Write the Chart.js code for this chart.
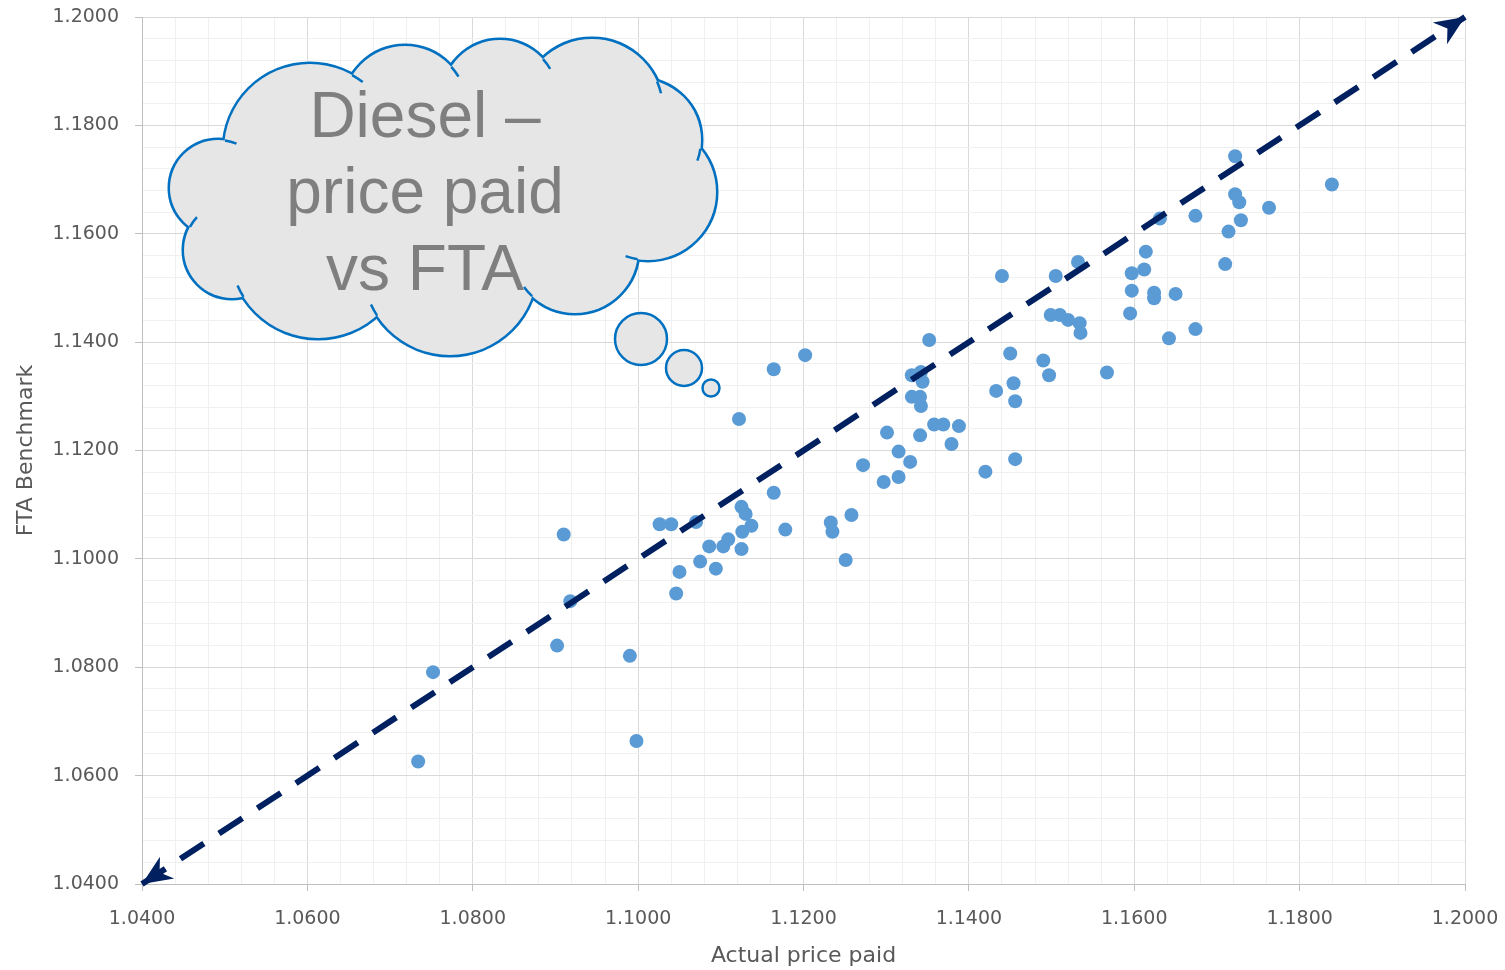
<!DOCTYPE html>
<html>
<head>
<meta charset="utf-8">
<script src="https://cdn.jsdelivr.net/npm/chart.js@4/dist/chart.umd.min.js"></script>
<style>
  body { margin: 0; background: #fff; }
  #wrap { width: 1505px; height: 970px; }
</style>
</head>
<body>
<div id="wrap"><canvas id="chart"></canvas></div>
<script>
// values
const actualPaid = [
  1.0734, 1.0752, 1.0910, 1.0918, 1.0902, 1.0990, 1.0998, 1.1026, 1.1040, 1.1070,
  1.1122, 1.1125, 1.1130, 1.1137, 1.1126, 1.1164, 1.1178, 1.1109, 1.1103, 1.1086,
  1.1125, 1.1075, 1.1094, 1.1050, 1.1046, 1.1233, 1.1235, 1.1258, 1.1251, 1.1272,
  1.1301, 1.1297, 1.1315, 1.1315, 1.1329, 1.1352, 1.1342, 1.1331, 1.1344, 1.1331,
  1.1341, 1.1342, 1.1341, 1.1358, 1.1369, 1.1388, 1.1379, 1.1450, 1.1433, 1.1454,
  1.1456, 1.1420, 1.1456, 1.1490, 1.1497, 1.1499, 1.1510, 1.1520, 1.1534, 1.1535,
  1.1567, 1.1595, 1.1440, 1.1532, 1.1505, 1.1597, 1.1612, 1.1614, 1.1597, 1.1624,
  1.1624, 1.1650, 1.1674, 1.1642, 1.1631, 1.1674, 1.1722, 1.1722, 1.1727, 1.1763,
  1.1729, 1.1714, 1.1710, 1.1839, 1.1164, 1.1202
];
const ftaBenchmark = [
  1.0626, 1.0791, 1.1045, 1.0922, 1.0840, 1.0821, 1.0664, 1.1064, 1.1064, 1.1068,
  1.1258, 1.1096, 1.1083, 1.1061, 1.1050, 1.1122, 1.1054, 1.1036, 1.1023, 1.1023,
  1.1018, 1.0995, 1.0982, 1.0976, 1.0936, 1.1067, 1.1050, 1.1081, 1.0998, 1.1173,
  1.1233, 1.1142, 1.1198, 1.1151, 1.1179, 1.1404, 1.1345, 1.1339, 1.1327, 1.1299,
  1.1299, 1.1282, 1.1228, 1.1248, 1.1248, 1.1245, 1.1212, 1.1379, 1.1310, 1.1324,
  1.1291, 1.1161, 1.1184, 1.1366, 1.1339, 1.1450, 1.1450, 1.1441, 1.1435, 1.1417,
  1.1344, 1.1453, 1.1522, 1.1548, 1.1522, 1.1527, 1.1534, 1.1567, 1.1495, 1.1491,
  1.1481, 1.1489, 1.1424, 1.1407, 1.1628, 1.1633, 1.1743, 1.1673, 1.1658, 1.1648,
  1.1625, 1.1604, 1.1544, 1.1691, 1.1350, 1.1376
];
const parityLine = [1.04, 1.20];   // dashed y = x arrow
const axisMin = 1.04;
const axisMax = 1.20;
const minorStep = 0.004;
const calloutLines = ["Diesel \u2013", "price paid", "vs FTA"];

const points = actualPaid.map((x, i) => ({ x: x, y: ftaBenchmark[i] }));
const linePts = parityLine.map(v => ({ x: v, y: v }));

const gridColor = (ctx) => (ctx.index % 5 === 0 ? "#d9d9d9" : "#f0f0f0");
const tickMarkColor = (ctx) => (ctx.index % 5 === 0 ? "#bfbfbf" : "rgba(0,0,0,0)");
const majorLabel = (v, i) => (i % 5 === 0 ? Number(v).toFixed(4) : "");

// cloud callout + arrow heads, drawn on top
const extras = {
  id: "extras",
  afterDatasetsDraw(chart) {
    const ctx = chart.ctx;
    const xs = chart.scales.x, ys = chart.scales.y;
    const p0 = { x: xs.getPixelForValue(parityLine[0]), y: ys.getPixelForValue(parityLine[0]) };
    const p1 = { x: xs.getPixelForValue(parityLine[1]), y: ys.getPixelForValue(parityLine[1]) };
    const arrow = (tip, from) => {
      const a = Math.atan2(tip.y - from.y, tip.x - from.x);
      const len = 30, half = 13, notch = 9;
      ctx.save();
      ctx.translate(tip.x, tip.y);
      ctx.rotate(a);
      ctx.beginPath();
      ctx.moveTo(0, 0);
      ctx.lineTo(-len, -half);
      ctx.lineTo(-len + notch, 0);
      ctx.lineTo(-len, half);
      ctx.closePath();
      ctx.fillStyle = "#002060";
      ctx.fill();
      ctx.restore();
    };
    arrow(p1, p0);
    arrow(p0, p1);
  },
  afterDraw(chart) {
    const ctx = chart.ctx;
    const lobes = [
      [310, 150, 86], [405, 108, 62], [500, 98, 58], [592, 110, 71],
      [640, 140, 61], [648, 192, 68], [575, 250, 63], [450, 268, 87],
      [318, 250, 88], [232, 250, 48], [218, 188, 48]
    ];
    const fillers = [[440, 195, 120], [560, 180, 60]];
    const all = lobes.concat(fillers);
    ctx.save();
    ctx.strokeStyle = "#0070c0";
    ctx.lineWidth = 5;
    lobes.forEach(([cx, cy, r]) => {
      ctx.beginPath(); ctx.arc(cx, cy, r, 0, Math.PI * 2); ctx.stroke();
    });
    ctx.fillStyle = "#e6e6e6";
    all.forEach(([cx, cy, r]) => {
      ctx.beginPath(); ctx.arc(cx, cy, r, 0, Math.PI * 2); ctx.fill();
    });
    // little inner hooks where one lobe runs into the next
    ctx.lineWidth = 2.5;
    const covered = (x, y, skip) =>
      all.some(([cx, cy, r], j) => j !== skip && Math.hypot(x - cx, y - cy) < r - 1);
    lobes.forEach(([cx, cy, r], i) => {
      let prev = null;
      for (let d = 0; d <= 360; d += 0.5) {
        const a = d * Math.PI / 180;
        const vis = !covered(cx + r * Math.cos(a), cy + r * Math.sin(a), i);
        if (prev === true && !vis) {
          ctx.beginPath(); ctx.arc(cx, cy, r, a - 0.02, a + 11 / r); ctx.stroke();
        }
        prev = vis;
      }
    });
    // thought bubbles
    [[641, 339, 26], [684, 368, 18], [711, 388, 8.5]].forEach(([cx, cy, r]) => {
      ctx.beginPath(); ctx.arc(cx, cy, r, 0, Math.PI * 2);
      ctx.fill(); ctx.stroke();
    });
    ctx.fillStyle = "#7f7f7f";
    ctx.font = "64px 'Liberation Sans', Arial, sans-serif";
    ctx.textAlign = "center";
    ctx.textBaseline = "alphabetic";
    const baselines = [137, 213, 290];
    calloutLines.forEach((t, i) => ctx.fillText(t, 425, baselines[i]));
    ctx.restore();
  }
};

new Chart(document.getElementById("chart"), {
  type: "scatter",
  data: {
    datasets: [
      {
        type: "line",
        data: linePts,
        borderColor: "#002060",
        borderWidth: 6,
        borderDash: [28, 18],
        borderCapStyle: "butt",
        pointRadius: 0,
        fill: false,
        clip: false,
        order: 0
      },
      {
        data: points,
        backgroundColor: "#5b9bd5",
        borderColor: "#5b9bd5",
        borderWidth: 0,
        pointRadius: 7,
        order: 1
      }
    ]
  },
  options: {
    responsive: true,
    maintainAspectRatio: false,
    animation: false,
    layout: { padding: { left: 0, right: 40, top: 17, bottom: 0 } },
    plugins: { legend: { display: false }, tooltip: { enabled: false } },
    scales: {
      x: {
        type: "linear",
        min: axisMin, max: axisMax,
        afterFit: (s) => { s.height = 86; s.paddingLeft = 0; s.paddingRight = 0; },
        ticks: {
          stepSize: minorStep, autoSkip: false, maxRotation: 0,
          padding: 17, color: "#595959",
          font: { family: "'DejaVu Sans'", size: 19 },
          callback: majorLabel
        },
        grid: { color: gridColor, tickColor: tickMarkColor, tickLength: 7, lineWidth: 1 },
        border: { color: "#bfbfbf", width: 1 },
        title: {
          display: true, text: "Actual price paid", color: "#595959",
          font: { family: "'DejaVu Sans'", size: 22 },
          padding: { top: 0, bottom: 1 }
        }
      },
      y: {
        type: "linear",
        min: axisMin, max: axisMax,
        afterFit: (s) => { s.width = 142; s.paddingTop = 0; s.paddingBottom = 0; },
        ticks: {
          stepSize: minorStep, autoSkip: false,
          padding: 16, color: "#595959",
          font: { family: "'DejaVu Sans'", size: 19 },
          callback: majorLabel
        },
        grid: { color: gridColor, tickColor: tickMarkColor, tickLength: 7, lineWidth: 1 },
        border: { color: "#bfbfbf", width: 1 },
        title: {
          display: true, text: "FTA Benchmark", color: "#595959",
          font: { family: "'DejaVu Sans'", size: 22 },
          padding: { top: 13, bottom: 0 }
        }
      }
    }
  },
  plugins: [extras]
});
</script>
</body>
</html>
